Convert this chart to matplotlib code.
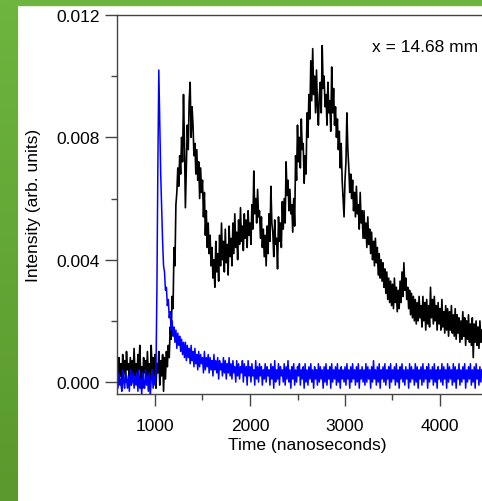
import numpy as np
import matplotlib
matplotlib.use("Agg")
import matplotlib.pyplot as plt
from matplotlib.colors import LinearSegmentedColormap
from matplotlib.patches import Rectangle

plt.rcParams['font.family'] = ['Liberation Sans', 'DejaVu Sans']

# sample times (ns), one every 10 ns
time_ns = np.arange(600, 4441, 10)

# black trace, intensity in units of 1e-4
black_e4 = [
    5, -1, 8, 2, 6, -2, 9, 3, 7, 0, 10, 4, 6, 1, 8, -1, 7, 3, 11, 2,
    6, 0, 9, 4, 12, 1, 5, -2, 8, 3, 7, 0, 10, 2, 6, -1, 12, 4, 8, 1,
    9, -2, 6, 3, 10, -1, 7, 2, 9, -3, 8, 1, 10, 5, 12, 8, 18, 14, 28, 24,
    44, 38, 58, 62, 70, 64, 74, 68, 80, 72, 94, 78, 57, 70, 84, 76, 92, 98, 80, 90,
    84, 74, 78, 68, 76, 66, 72, 60, 70, 62, 66, 54, 62, 48, 56, 44, 52, 42, 48, 38,
    44, 34, 40, 31, 46, 36, 42, 33, 48, 38, 52, 40, 46, 36, 50, 39, 45, 35, 51, 41,
    47, 38, 52, 42, 55, 44, 49, 40, 53, 45, 57, 46, 51, 43, 55, 47, 53, 44, 56, 48,
    52, 45, 58, 50, 69, 55, 60, 52, 63, 54, 56, 47, 54, 44, 50, 41, 48, 38, 51, 42,
    55, 46, 64, 52, 49, 41, 53, 45, 47, 37, 54, 46, 52, 44, 59, 50, 60, 52, 72, 61,
    66, 56, 63, 55, 58, 49, 60, 51, 74, 66, 84, 72, 80, 70, 86, 76, 78, 65, 74, 68,
    88, 80, 94, 86, 105, 92, 109, 94, 100, 88, 102, 90, 84, 94, 98, 88, 110, 96, 100, 90,
    94, 84, 98, 88, 92, 82, 103, 88, 96, 84, 90, 80, 86, 76, 82, 70, 78, 66, 60, 54,
    66, 72, 88, 76, 70, 62, 68, 60, 66, 56, 62, 54, 64, 55, 58, 50, 62, 52, 56, 47,
    56, 47, 52, 44, 54, 45, 50, 42, 49, 40, 46, 38, 47, 39, 44, 35, 42, 34, 40, 33,
    39, 31, 37, 29, 36, 27, 34, 26, 33, 25, 32, 24, 34, 26, 31, 23, 30, 24, 33, 26,
    36, 28, 39, 30, 34, 27, 31, 24, 30, 22, 29, 21, 28, 20, 27, 19, 26, 20, 28, 21,
    25, 18, 28, 20, 26, 17, 27, 19, 25, 18, 31, 21, 27, 19, 28, 20, 25, 17, 26, 19,
    24, 17, 27, 18, 23, 16, 25, 17, 24, 15, 23, 17, 25, 16, 22, 15, 24, 14, 22, 16,
    21, 13, 20, 14, 23, 15, 21, 12, 20, 14, 22, 13, 19, 12, 21, 8, 19, 13, 20, 12,
    18, 11, 20, 13, 17,
]

# blue trace, intensity in units of 1e-4
blue_e4 = [
    2, -2, 3, -1, 1, -3, 4, 0, -2, 3, 1, -2, 2, -3, 4, -1, 0, 3, -2, 2,
    -1, 3, -3, 4, -2, 1, -4, 3, 0, -2, 4, -1, 2, -3, 3, -5, 1, 4, -2, 2,
    -1, 3, 30, 70, 102, 84, 68, 57, 46, 38, 36, 30, 31, 25, 27, 21, 23, 17, 20, 15,
    18, 13, 17, 11, 16, 12, 15, 10, 14, 9, 13, 8, 13, 7, 12, 8, 11, 6, 12, 7,
    10, 5, 11, 6, 9, 4, 10, 5, 9, 6, 8, 3, 10, 4, 8, 5, 9, 3, 8, 4,
    7, 2, 9, 4, 7, 3, 8, 1, 7, 4, 6, 2, 8, 3, 7, 1, 6, 3, 8, 2,
    6, 1, 7, 3, 5, 0, 7, 2, 6, 1, 5, 3, 7, 0, 6, 2, 5, -1, 7, 2,
    5, 0, 6, 2, 4, -1, 7, 1, 5, 0, 6, 2, 5, -1, 4, 1, 6, 0, 5, 2,
    4, -1, 6, 1, 5, -2, 7, 0, 4, 1, 6, -1, 5, 2, 4, 0, 6, -1, 5, 1,
    7, 0, 4, -2, 5, 1, 6, -1, 4, 0, 5, 2, 6, -1, 4, 1, 5, -2, 6, 0,
    4, -1, 5, 1, 6, 0, 4, -2, 5, 1, 4, -1, 6, 0, 5, 1, 4, -2, 5, 0,
    6, -1, 4, 1, 5, -2, 6, 0, 4, 1, 5, -1, 6, 0, 4, -2, 5, 1, 4, 0,
    5, -1, 6, 1, 4, -2, 5, 0, 6, 1, 4, -1, 5, 0, 6, -2, 4, 1, 5, 0,
    4, -1, 6, 0, 5, 1, 4, -2, 5, 0, 7, 1, 4, -1, 5, 0, 6, -2, 4, 1,
    5, 0, 6, -1, 4, 1, 5, -2, 6, 0, 4, 1, 5, -1, 6, 0, 4, -2, 5, 1,
    6, 0, 4, -1, 5, 1, 4, -2, 6, 0, 5, 1, 4, -1, 6, 0, 5, -2, 4, 1,
    5, -1, 6, 0, 4, 1, 5, -2, 6, 0, 4, 1, 5, -1, 6, 0, 4, -2, 5, 1,
    4, 0, 6, -1, 5, 1, 4, -2, 6, 0, 5, 1, 4, -1, 6, 0, 5, -2, 4, 1,
    6, -1, 4, 0, 5, 1, 6, -2, 4, 0, 5, 1, 6, -1, 4, 0, 5, -2, 6, 1,
    4, -1, 5, 0, 4,
]

black = np.array(black_e4) * 1e-4
blue = np.array(blue_e4) * 1e-4

W, H = 482, 502
fig = plt.figure(figsize=(W / 100, H / 100), dpi=100)

# green frame on the left and top
green = LinearSegmentedColormap.from_list('g', ['#5a992d', '#6db53f'])
gax = fig.add_axes([0, 0, 18 / W, 1])
gax.imshow(np.linspace(0, 1, 100).reshape(-1, 1), aspect='auto', cmap=green, origin='lower')
gax.axis('off')
fig.patches.append(Rectangle((0, 1 - 6 / H), 1, 6 / H, transform=fig.transFigure,
                             color='#6db53f', zorder=0))

ax = fig.add_axes([117 / W, (H - 395) / H, 380 / W, 379 / H])
ax.plot(time_ns, black, color='black', lw=1.2)
ax.plot(time_ns, blue, color='#0000ff', lw=1.1)

ax.set_xlim(600, 4600)
ax.set_ylim(-0.00039, 0.012)
ax.set_xticks([1000, 2000, 3000, 4000])
ax.set_xticks([1500, 2500, 3500], minor=True)
ax.set_yticks([0.0, 0.004, 0.008, 0.012])
ax.set_yticklabels(['0.000', '0.004', '0.008', '0.012'])
ax.set_yticks([0.002, 0.006, 0.010], minor=True)

spine_c = '#444444'
for s in ['left', 'bottom', 'top']:
    ax.spines[s].set_color(spine_c)
    ax.spines[s].set_linewidth(1.0)
ax.spines['right'].set_visible(False)
ax.tick_params(which='major', direction='out', length=8.5, width=1.0, color=spine_c,
               labelsize=12.5, pad=4)
ax.tick_params(axis='x', which='major', pad=9)
ax.tick_params(which='minor', direction='out', length=4.5, width=1.0, color=spine_c)

ax.set_xlabel('Time (nanoseconds)', fontsize=12.5, labelpad=3)
ax.set_ylabel('Intensity (arb. units)', fontsize=12.5, labelpad=11)

fig.text(372 / W, 1 - 47 / H, 'x = 14.68 mm', fontsize=12.5, va='center', ha='left')

fig.savefig('out.png', dpi=100)
